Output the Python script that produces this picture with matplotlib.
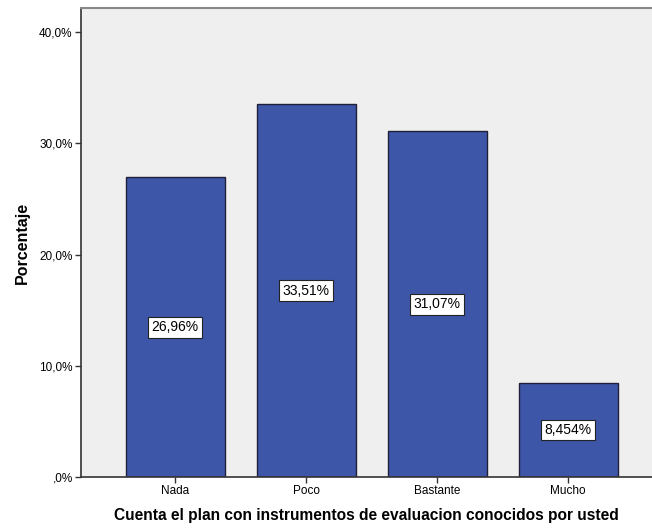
import matplotlib
matplotlib.use("Agg")
import matplotlib.pyplot as plt

categories = ["Nada", "Poco", "Bastante", "Mucho"]
values = [26.96, 33.51, 31.07, 8.454]
labels = ["26,96%", "33,51%", "31,07%", "8,454%"]
yticks = [0, 10, 20, 30, 40]
yticklabels = [",0%", "10,0%", "20,0%", "30,0%", "40,0%"]

plt.rcParams['font.family'] = ['Liberation Sans', 'DejaVu Sans']
fig = plt.figure(figsize=(6.52, 5.28), dpi=100)
ax = fig.add_axes([81/652, 51/528, 1 - 81/652, (477-8)/528])
ax.set_facecolor("#efefef")
x = list(range(len(categories)))
ax.bar(x, values, width=0.755, color="#3e56a8", edgecolor="#1f1f3a", linewidth=1.0, zorder=2)
for xi, v, lab in zip(x, values, labels):
    ax.text(xi, v/2, lab, ha="center", va="center", fontsize=10, color="black",
            bbox=dict(boxstyle="square,pad=0.25", fc="white", ec="#222222", lw=0.8), zorder=3)
ax.set_xlim(-0.72, 3.64)
ax.set_ylim(0, 42.16)
ax.set_xticks(x)
ax.set_xticklabels(categories, fontsize=8.5)
ax.set_yticks(yticks)
ax.set_yticklabels(yticklabels, fontsize=8.5)
ax.tick_params(axis="both", length=4, width=1, color="#333333", pad=2)
for s in ["left", "bottom"]:
    ax.spines[s].set_color("#333333")
    ax.spines[s].set_linewidth(1.2)
ax.spines["top"].set_color("#888888")
ax.spines["top"].set_linewidth(1.5)
ax.spines["right"].set_visible(False)
ax.set_ylabel("Porcentaje", fontsize=11.5, fontweight="bold", labelpad=7)
ax.set_xlabel("Cuenta el plan con instrumentos de evaluacion conocidos por usted", fontsize=11.2, fontweight="bold", labelpad=8)
fig.savefig("out.png", dpi=100)
